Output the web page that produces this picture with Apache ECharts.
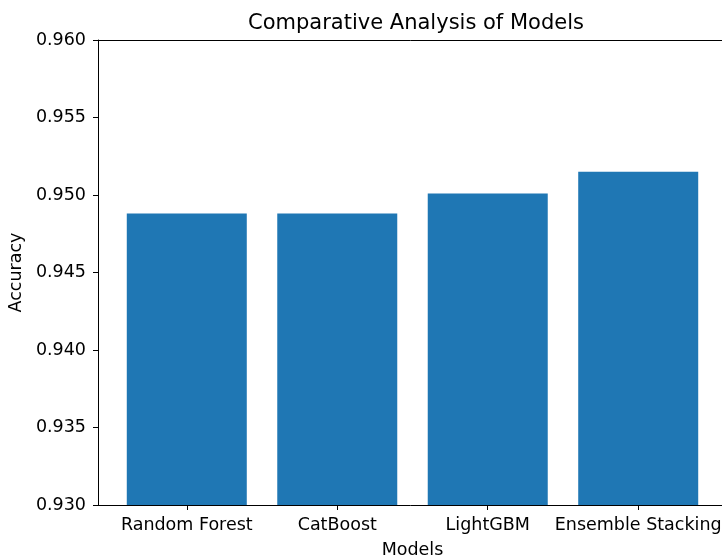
<!DOCTYPE html>
<html>
<head>
<meta charset="utf-8">
<script src="https://cdn.jsdelivr.net/npm/echarts@6/dist/echarts.min.js"></script>
<style>html,body{margin:0;padding:0;background:#fff}#c{width:722px;height:559px}</style>
</head>
<body>
<div id="c"></div>
<script>
const categories = ["Random Forest", "CatBoost", "LightGBM", "Ensemble Stacking"];
const accuracy = [0.9488, 0.9488, 0.9501, 0.9515];
const yTicks = [0.930, 0.935, 0.940, 0.945, 0.950, 0.955, 0.960];

const positions = categories.map((_, i) => i);
const font = 'DejaVu Sans';
const chart = echarts.init(document.getElementById('c'), null, {renderer: 'canvas'});
chart.setOption({
  animation: false,
  backgroundColor: '#ffffff',
  title: {
    text: 'Comparative Analysis of Models',
    left: 411, top: 8, textAlign: 'center',
    textStyle: {fontFamily: font, fontSize: 21, fontWeight: 'normal', color: '#000'}
  },
  grid: {left: 98, top: 40, right: -5, bottom: 54, containLabel: false, outerBoundsMode: 'none'},
  xAxis: [{
    type: 'value', min: -0.59, max: 3.59,
    name: 'Models', nameLocation: 'middle', nameGap: 36,
    nameTextStyle: {fontFamily: font, fontSize: 17.5, color: '#000'},
    axisLine: {show: true, onZero: false, lineStyle: {color: '#000', width: 1}},
    axisTick: {show: true, inside: false, length: 5, customValues: positions, lineStyle: {color: '#000'}},
    axisLabel: {show: true, customValues: positions, margin: 11,
      formatter: v => categories[Math.round(v)] || '',
      fontFamily: font, fontSize: 17.5, color: '#000'},
    splitLine: {show: false}
  }, {
    type: 'value', min: -0.59, max: 3.59, position: 'top',
    axisLine: {show: true, onZero: false, lineStyle: {color: '#000', width: 1}},
    axisTick: {show: false}, axisLabel: {show: false}, splitLine: {show: false}
  }],
  yAxis: {
    type: 'value', min: yTicks[0], max: yTicks[yTicks.length - 1], interval: 0.005,
    name: 'Accuracy', nameLocation: 'middle', nameGap: 71, nameRotate: 90,
    nameTextStyle: {fontFamily: font, fontSize: 17.5, color: '#000'},
    axisLine: {show: true, onZero: false, lineStyle: {color: '#000', width: 1}},
    axisTick: {show: true, inside: false, length: 5, lineStyle: {color: '#000'}},
    axisLabel: {margin: 12, formatter: v => v.toFixed(3), fontFamily: font, fontSize: 17.5, color: '#000'},
    splitLine: {show: false}
  },
  series: [{
    type: 'bar',
    xAxisIndex: 0,
    barWidth: 120,
    itemStyle: {color: '#1f77b4'},
    data: positions.map((p, i) => [p, accuracy[i]])
  }]
});
</script>
</body>
</html>
